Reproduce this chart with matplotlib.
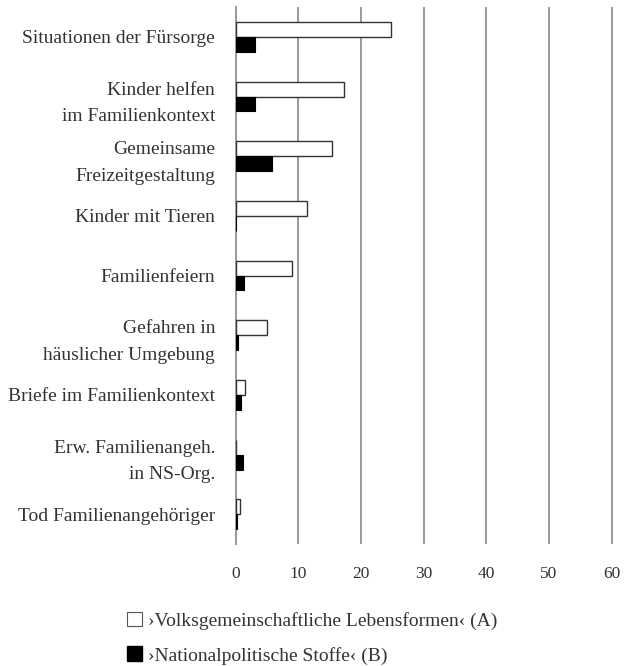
import matplotlib
matplotlib.use("Agg")
import matplotlib.pyplot as plt
from matplotlib.patches import Patch
import numpy as np

categories = [
    "Situationen der Fürsorge",
    "Kinder helfen\nim Familienkontext",
    "Gemeinsame\nFreizeitgestaltung",
    "Kinder mit Tieren",
    "Familienfeiern",
    "Gefahren in\nhäuslicher Umgebung",
    "Briefe im Familienkontext",
    "Erw. Familienangeh.\nin NS-Org.",
    "Tod Familienangehöriger",
]
series_a = [24.7, 17.2, 15.4, 11.4, 8.9, 4.9, 1.5, 0.0, 0.6]
series_b = [3.0, 3.0, 5.7, 0.0, 1.3, 0.4, 0.8, 1.1, 0.2]
label_a = "›Volksgemeinschaftliche Lebensformen‹ (A)"
label_b = "›Nationalpolitische Stoffe‹ (B)"
xticks = [0, 10, 20, 30, 40, 50, 60]

plt.rcParams['font.family'] = ['Liberation Serif', 'DejaVu Serif']

fig = plt.figure(figsize=(6.24, 6.66), dpi=100)
ax = fig.add_axes([0.378, 0.183, 0.604, 0.8065])

y = np.arange(len(categories))
h = 0.25
ax.barh(y - h / 2, series_a, height=h, color="white", edgecolor="#333333", linewidth=1.0, zorder=3)
ax.barh(y + h / 2, series_b, height=h, color="black", edgecolor="black", linewidth=0.8, zorder=3)

ax.set_xlim(0, 60.2)
ax.set_ylim(len(categories) - 0.5, -0.5)
ax.set_xticks(xticks)
ax.set_xticklabels([str(t) for t in xticks], fontsize=12.5, color="#333333")
ax.set_yticks(y)
ax.set_yticklabels(categories, fontsize=14, color="#333333", linespacing=1.75)
ax.tick_params(axis="x", length=0, pad=16)
ax.tick_params(axis="y", length=0, pad=15)
for lab in ax.get_yticklabels():
    lab.set_horizontalalignment("right")
    lab.set_multialignment("right")

ax.grid(axis="x", color="#999999", linewidth=1.4, zorder=0)
for s in ["top", "right", "bottom"]:
    ax.spines[s].set_visible(False)
ax.spines["left"].set_color("#999999")
ax.spines["left"].set_linewidth(1.4)

handles = [
    Patch(facecolor="white", edgecolor="#555555", linewidth=0.8, label=label_a),
    Patch(facecolor="black", edgecolor="black", label=label_b),
]
fig.legend(handles=handles, loc="upper center", bbox_to_anchor=(0.5, 0.108), frameon=False,
           fontsize=14, handlelength=0.8, handleheight=0.8, handletextpad=0.3,
           labelspacing=0.85, labelcolor="#333333", alignment="left")

fig.savefig("out.png", dpi=100)
